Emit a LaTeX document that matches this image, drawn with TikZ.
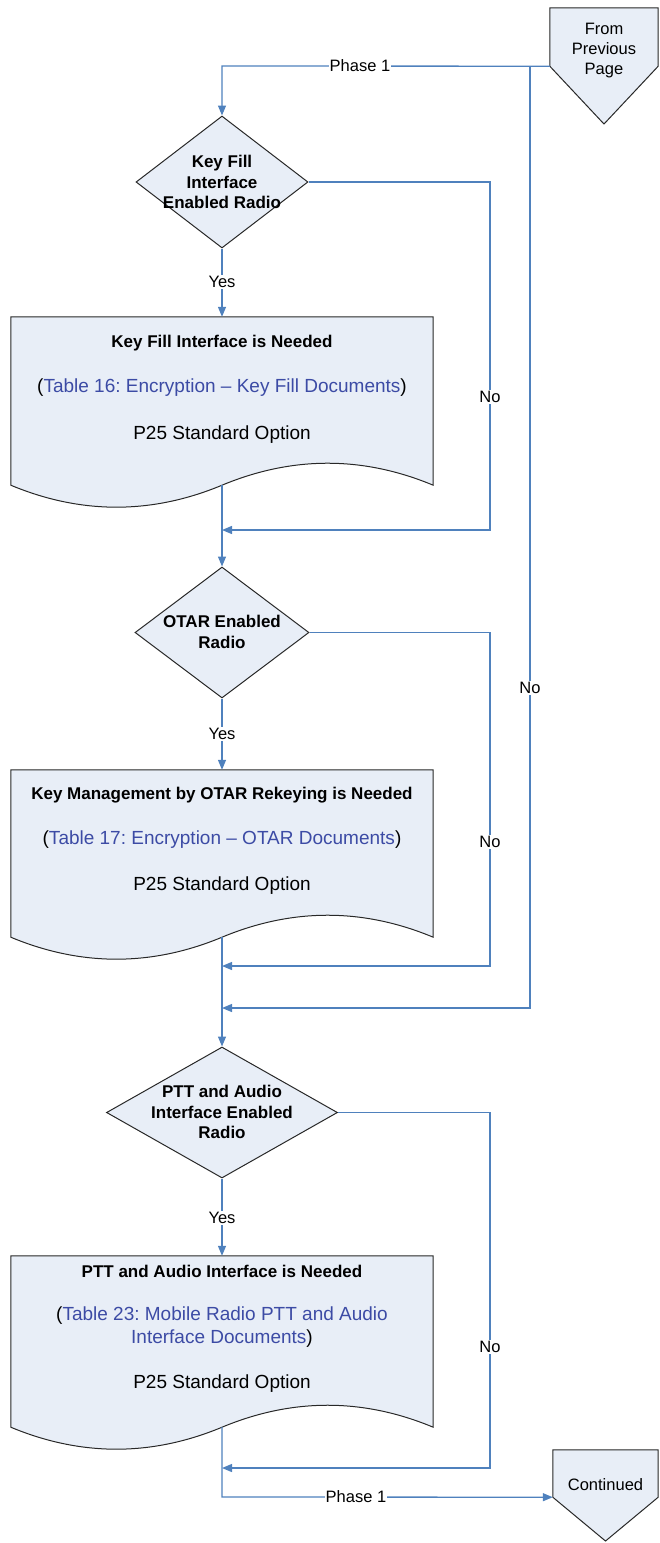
\documentclass[tikz,border=0pt]{standalone}
\usepackage{fontspec}
\setmainfont{Liberation Sans}
\usetikzlibrary{shapes.geometric,arrows.meta}
\definecolor{lineblue}{RGB}{79,129,189}
\definecolor{shapefill}{RGB}{232,238,247}
\definecolor{linkblue}{RGB}{60,75,165}
\definecolor{edgegray}{RGB}{40,40,40}
\newcommand\mydoc[1]{\draw[shp] (#1.north west) -- (#1.north east) -- (#1.south east)
  .. controls +(-70.3,-29.3) and +(70.3,-29.3) .. (#1.south)
  .. controls +(-70.3,29.3) and +(70.3,29.3) .. (#1.south west) -- cycle;}
\begin{document}
\frenchspacing
\begin{tikzpicture}[x=1pt,y=-1pt,
 conn/.style={draw=lineblue,line width=1.3pt},
 arr/.style={conn,-{Triangle[length=10pt,width=8pt]}},
 lbl/.style={fill=white,inner sep=1pt,font=\fontsize{16.5}{19}\selectfont},
 shp/.style={draw=edgegray,fill=shapefill,line width=1pt},
 dia/.style={shp,diamond,inner sep=0pt},
 dtext/.style={align=center,font=\bfseries\fontsize{17}{20.5}\selectfont},
 btext/.style={font=\bfseries\fontsize{17}{20}\selectfont},
 rtext/.style={align=center,font=\fontsize{19}{23}\selectfont},
 ptext/.style={align=center,font=\fontsize{16.5}{20}\selectfont},
 docframe/.style={inner sep=0pt,minimum width=422pt}
]
\useasboundingbox (0,0) rectangle (660,1543);

% off-page connectors
\node[inner sep=0pt,minimum width=108pt,minimum height=58pt] (fpp) at (604,37) {};
\draw[shp] (fpp.north west) -- (fpp.north east) -- (fpp.south east) -- (604,124) -- (fpp.south west) -- cycle;
\node[ptext] (fppt) at (604,51) {From\\Previous\\Page};

\node[inner sep=0pt,minimum width=105pt,minimum height=47pt] (cont) at (605.5,1473.5) {};
\draw[shp] (cont.north west) -- (cont.north east) -- (cont.south east) -- (605.5,1541) -- (cont.south west) -- cycle;
\node[ptext] (contt) at (605.5,1485) {Continued};

% decisions
\node[dia,minimum width=172pt,minimum height=132pt] (d1) at (222,182) {};
\node[dtext] (d1t) at (222,182) {Key Fill\\Interface\\Enabled Radio};
\node[dia,minimum width=174pt,minimum height=131pt] (d2) at (222,632.5) {};
\node[dtext] (d2t) at (222,632) {OTAR Enabled\\Radio};
\node[dia,minimum width=231pt,minimum height=131pt] (d3) at (222,1112.5) {};
\node[dtext] (d3t) at (222,1112) {PTT and Audio\\Interface Enabled\\Radio};

% documents
\node[docframe,minimum height=168pt] (doc1) at (222,401) {};
\mydoc{doc1}
\node[btext] (doc1a) at (222,343) {Key Fill Interface is Needed};
\node[rtext] (doc1b) at (222,388) {(\textcolor{linkblue}{Table 16: Encryption – Key Fill Documents})};
\node[rtext] (doc1c) at (222,435) {P25 Standard Option};

\node[docframe,minimum height=167pt] (doc2) at (222,853.5) {};
\mydoc{doc2}
\node[btext] (doc2a) at (222,795) {Key Management by OTAR Rekeying is Needed};
\node[rtext] (doc2b) at (222,840) {(\textcolor{linkblue}{Table 17: Encryption – OTAR Documents})};
\node[rtext] (doc2c) at (222,886) {P25 Standard Option};

\node[docframe,minimum height=171pt] (doc3) at (222,1341.5) {};
\mydoc{doc3}
\node[btext] (doc3a) at (222,1271) {PTT and Audio Interface is Needed};
\node[rtext] (doc3b) at (222,1327.5) {(\textcolor{linkblue}{Table 23: Mobile Radio PTT and Audio}\\\textcolor{linkblue}{Interface Documents})};
\node[rtext] (doc3c) at (222,1384) {P25 Standard Option};

% junction coordinates
\coordinate (top1) at (222,66);
\coordinate (br0) at (530,66);
\coordinate (br1) at (530,1008);
\coordinate (jb) at (222,1008);
\coordinate (n1) at (490,530);
\coordinate (j1) at (222,530);
\coordinate (n2) at (490,966);
\coordinate (j2) at (222,966);
\coordinate (n3) at (490,1468);
\coordinate (j3) at (222,1468);
\coordinate (bot) at (222,1497);

% connectors
\draw[arr] (fpp.south west) -- (top1) -- (d1.north);
\draw[arr] (br0) -- (br1) -- (jb);
\draw[arr] (d1.east) -| (n1) -- (j1);
\draw[arr] (d1.south) -- (doc1.north);
\draw[arr] (doc1.south) -- (d2.north);
\draw[arr] (d2.east) -| (n2) -- (j2);
\draw[arr] (d2.south) -- (doc2.north);
\draw[arr] (doc2.south) -- (d3.north);
\draw[arr] (d3.east) -| (n3) -- (j3);
\draw[arr] (d3.south) -- (doc3.north);
\draw[arr] (doc3.south) -- (bot) -- (cont.south west);

% labels
\node[lbl] (ph1) at (360,66) {Phase 1};
\node[lbl] (ph2) at (356,1497) {Phase 1};
\node[lbl] (y1) at (222,282) {Yes};
\node[lbl] (y2) at (222,734) {Yes};
\node[lbl] (y3) at (222,1218) {Yes};
\node[lbl] (no1) at (490,397) {No};
\node[lbl] (no2) at (490,842) {No};
\node[lbl] (no3) at (490,1347) {No};
\node[lbl] (no0) at (530,688) {No};
\end{tikzpicture}
\end{document}
